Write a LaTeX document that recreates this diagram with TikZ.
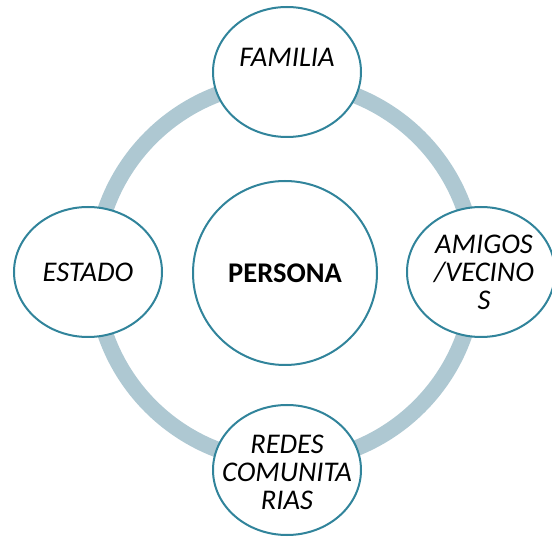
\documentclass[tikz,border=0pt]{standalone}
\usepackage{fontspec}
\setmainfont{Carlito}
\usetikzlibrary{shapes.geometric}

\definecolor{ringblue}{HTML}{AEC8D2}
\definecolor{tealline}{HTML}{31849B}

\tikzset{
  ring/.style={draw=ringblue, line width=16pt},
  outer/.style={ellipse, draw=tealline, line width=2pt, fill=white,
    minimum width=148pt, minimum height=130pt, inner sep=0pt},
  inner/.style={circle, draw=tealline, line width=2pt, fill=white,
    minimum size=184pt, inner sep=0pt},
  label text/.style={font=\fontsize{28.5}{28}\selectfont\itshape, align=center, inner sep=0pt}
}

\begin{document}
\begin{tikzpicture}[x=1pt, y=-1pt]
\useasboundingbox (0,0) rectangle (552,537);

% ring behind everything
\draw[ring] (285,272) circle (190pt);

\node[inner] (persona) at (285,273) {};
\node[label text, font=\fontsize{28.5}{28}\selectfont\bfseries] at (persona.center) {PERSONA};

\node[outer] (familia) at (287,72) {};
\node[label text] at (287,57) {FAMILIA};

\node[outer] (estado) at (88,272) {};
\node[label text] at (estado.center) {ESTADO};

\node[outer] (amigos) at (481,272) {};
\node[label text] at (484,272) {AMIGOS\\/VECINO\\S};

\node[outer] (redes) at (287,470) {};
\node[label text] at (287,472) {REDES\\COMUNITA\\RIAS};
\end{tikzpicture}
\end{document}
